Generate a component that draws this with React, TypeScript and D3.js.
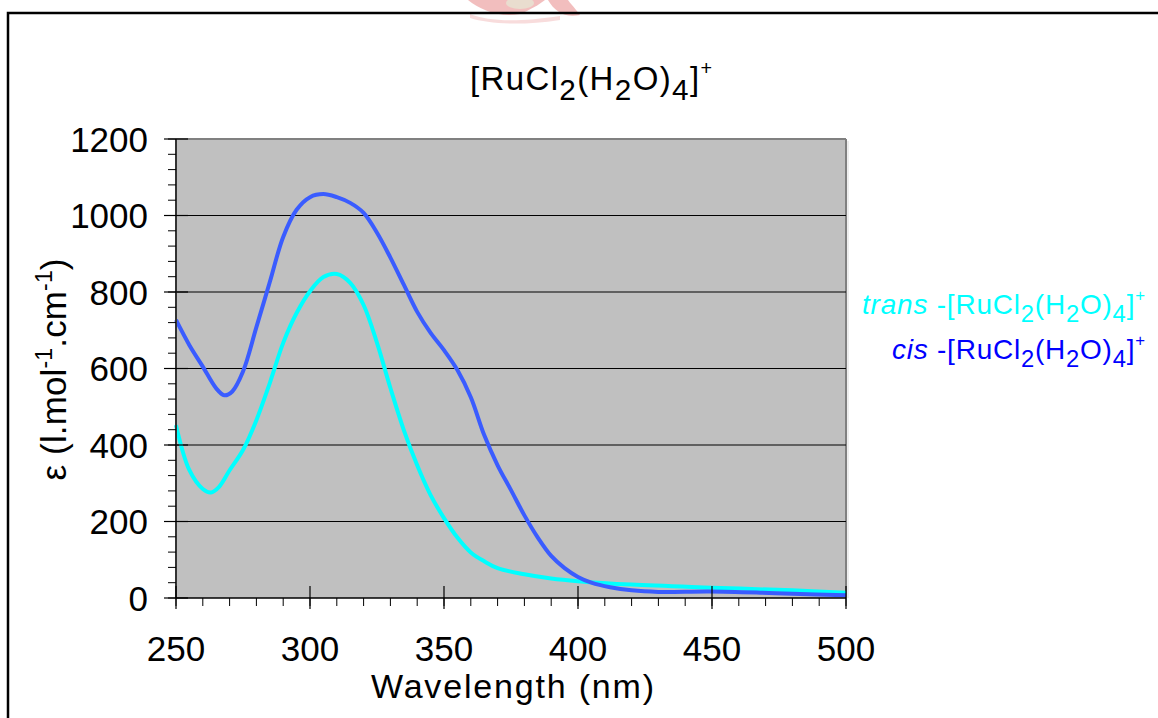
import React from 'react';
import * as d3 from 'd3';

// wavelength (nm)
const transWl = [250, 255, 260, 263, 266, 270, 275, 280, 285, 290, 295, 300, 305, 310, 315, 320, 325, 330, 335, 340, 345, 350, 355, 360, 365, 370, 380, 390, 400, 420, 450, 480, 500];
const transEps = [452, 334, 285, 276, 290, 334, 387, 465, 562, 667, 745, 802, 839, 847, 824, 766, 667, 549, 439, 347, 269, 209, 158, 119, 96, 78, 62, 51, 44, 35, 27, 20, 14];

const cisWl = [250, 255, 260, 265, 268, 271, 275, 280, 285, 290, 295, 300, 305, 310, 315, 320, 325, 330, 335, 340, 345, 350, 355, 360, 365, 370, 375, 380, 385, 390, 395, 400, 405, 412, 420, 430, 449, 468, 480, 500];
const cisEps = [727, 661, 605, 548, 530, 540, 592, 708, 826, 944, 1015, 1048, 1056, 1048, 1033, 1007, 955, 890, 819, 748, 693, 648, 596, 525, 426, 347, 282, 216, 158, 110, 78, 55, 40, 28, 20, 16, 17, 14, 11, 7];

const xTicks = [250, 300, 350, 400, 450, 500];
const yTicks = [0, 200, 400, 600, 800, 1000, 1200];

const FONT = 'Liberation Sans, Arial, sans-serif';

export default function App() {
  const left = 176, right = 846, top = 139, bottom = 598;
  const x = d3.scaleLinear().domain([250, 500]).range([left, right]);
  const y = d3.scaleLinear().domain([0, 1200]).range([bottom, top]);

  const line = d3.line<[number, number]>()
    .x(d => x(d[0]))
    .y(d => y(d[1]))
    .curve(d3.curveCatmullRom.alpha(0.5));

  const transPts = transWl.map((w, i) => [w, transEps[i]] as [number, number]);
  const cisPts = cisWl.map((w, i) => [w, cisEps[i]] as [number, number]);

  const xMinor = d3.range(250, 501, 10);
  const yMinor = d3.range(0, 1201, 40);

  // formula with near full-size subscripts
  const formula = (fs: number, sub: number) => (
    <>
      <tspan>[RuCl</tspan>
      <tspan fontSize={fs * sub} dy={fs * 0.3}>2</tspan>
      <tspan dy={-fs * 0.3}>(H</tspan>
      <tspan fontSize={fs * sub} dy={fs * 0.3}>2</tspan>
      <tspan dy={-fs * 0.3}>O)</tspan>
      <tspan fontSize={fs * sub} dy={fs * 0.3}>4</tspan>
      <tspan dy={-fs * 0.3}>]</tspan>
      <tspan fontSize={fs * 0.6} dy={-fs * 0.45}>+</tspan>
    </>
  );

  return (
    <svg width={1158} height={718} style={{ position: 'absolute', left: 0, top: 0, background: '#fff' }} fontFamily={FONT}>
      {/* watermark remnant */}
      <g opacity={0.55}>
        <path d="M468,0 C480,10 500,18 520,14 C530,10 540,4 545,0 Z" fill="#e98a8a" />
        <path d="M548,0 C555,12 565,18 580,15 C575,8 570,3 568,0 Z" fill="#e98a8a" />
        <ellipse cx={520} cy={3} rx={14} ry={6} fill="#d8c3a8" />
        <path d="M470,14 C490,22 520,22 560,16 L560,20 C520,26 490,24 470,18 Z" fill="#f4c0c0" />
      </g>

      {/* frame */}
      <path d="M8,718 L8,13 L1158,13" fill="none" stroke="#000" strokeWidth={2.5} />

      {/* plot area */}
      <rect x={left} y={top} width={right - left} height={bottom - top} fill="#c0c0c0" />
      <line x1={right + 2} x2={right + 2} y1={top + 2} y2={bottom} stroke="#dcdcdc" strokeWidth={1} />
      <line x1={left} x2={right} y1={top} y2={top} stroke="#808080" strokeWidth={2} />
      <line x1={right} x2={right} y1={top} y2={bottom} stroke="#808080" strokeWidth={2} />

      {yTicks.filter(t => t > 0 && t < 1200).map(t => (
        <line key={'g' + t} x1={left} x2={right} y1={y(t)} y2={y(t)} stroke="#000" strokeWidth={1} />
      ))}

      {/* curves */}
      <path d={line(transPts) || ''} fill="none" stroke="#00ffff" strokeWidth={4} />
      <path d={line(cisPts) || ''} fill="none" stroke="#3a5cff" strokeWidth={4} />

      {/* axes */}
      <line x1={left} x2={left} y1={top} y2={bottom} stroke="#333" strokeWidth={2} />
      <line x1={left} x2={right} y1={bottom} y2={bottom} stroke="#000" strokeWidth={1.5} />

      {yMinor.map(t => (
        <line key={'ym' + t} x1={left - 8} x2={left} y1={y(t)} y2={y(t)} stroke="#000" strokeWidth={1} />
      ))}
      {yTicks.map(t => (
        <line key={'yt' + t} x1={left - 12} x2={left + 12} y1={y(t)} y2={y(t)} stroke="#000" strokeWidth={1.2} />
      ))}
      {xMinor.map(t => (
        <line key={'xm' + t} x1={x(t)} x2={x(t)} y1={bottom} y2={bottom + 8} stroke="#000" strokeWidth={1} />
      ))}
      {xTicks.map(t => (
        <line key={'xt' + t} x1={x(t)} x2={x(t)} y1={bottom - 12} y2={bottom + 11} stroke="#000" strokeWidth={1.2} />
      ))}

      {yTicks.map(t => (
        <text key={'yl' + t} x={148} y={y(t) + 12.5} textAnchor="end" fontSize={35} fill="#000">{t}</text>
      ))}
      {xTicks.map(t => (
        <text key={'xl' + t} x={x(t)} y={661} textAnchor="middle" fontSize={35} fill="#000">{t}</text>
      ))}

      <text x={371} y={698} fontSize={34} fill="#000" textLength={283} lengthAdjust="spacing">Wavelength (nm)</text>

      <text transform={`translate(66,${(top + bottom) / 2}) rotate(-90)`} x={-112} fontSize={35} fill="#000" textLength={222} lengthAdjust="spacing">
        <tspan>ε (l.mol</tspan>
        <tspan fontSize={23} dy={-14}>-1</tspan>
        <tspan dy={14}>.cm</tspan>
        <tspan fontSize={23} dy={-14}>-1</tspan>
        <tspan dy={14}>)</tspan>
      </text>

      <text x={470} y={90} fontSize={33} fill="#000" textLength={242} lengthAdjust="spacing">{formula(33, 0.9)}</text>

      <text x={862} y={314} fontSize={28} fill="#00ffff" textLength={283} lengthAdjust="spacing">
        <tspan fontStyle="italic">trans</tspan>
        <tspan> -</tspan>
        {formula(28, 0.85)}
      </text>
      <text x={892} y={359} fontSize={28} fill="#0000ff" textLength={253} lengthAdjust="spacing">
        <tspan fontStyle="italic">cis</tspan>
        <tspan> -</tspan>
        {formula(28, 0.85)}
      </text>
    </svg>
  );
}
